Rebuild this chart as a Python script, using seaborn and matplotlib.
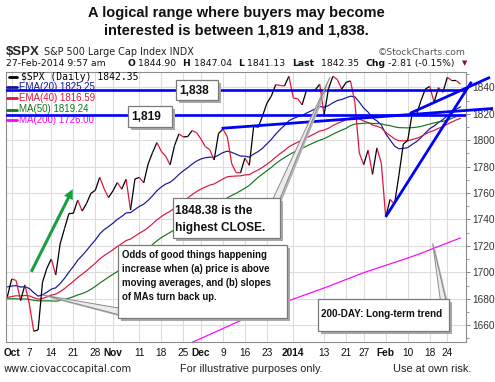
import numpy as np
import pandas as pd
import matplotlib
matplotlib.use("Agg")
import matplotlib.pyplot as plt
import seaborn as sns
from matplotlib.collections import LineCollection
from matplotlib.patches import Rectangle, Polygon, FancyArrowPatch
from matplotlib.lines import Line2D
from matplotlib.transforms import Affine2D

# $SPX daily closes, 30-Sep-2013 .. 27-Feb-2014 (trading-day index -1 .. 102)
close = [1681.55, 1695.00, 1693.87, 1678.66, 1690.50, 1676.12, 1655.45, 1656.40, 1692.56, 1703.20,
         1710.14, 1698.06, 1721.54, 1733.15, 1744.50, 1744.66, 1754.67, 1746.38, 1752.07, 1759.77,
         1762.11, 1771.95, 1763.31, 1756.54, 1761.64, 1767.93, 1762.97, 1770.49, 1747.15, 1770.61,
         1771.89, 1767.69, 1782.00, 1790.62, 1798.18, 1791.53, 1787.87, 1781.37, 1795.85, 1804.76,
         1802.48, 1802.75, 1807.23, 1805.81, 1800.90, 1795.15, 1792.81, 1785.03, 1805.09, 1808.37,
         1802.62, 1782.22, 1775.50, 1775.32, 1786.54, 1781.00, 1810.65, 1809.60, 1818.32, 1827.99,
         1833.32, 1842.02, 1841.40, 1841.07, 1848.36, 1831.98, 1831.37, 1826.77, 1837.88, 1837.49,
         1838.13, 1842.37, 1819.20, 1838.88, 1848.38, 1845.89, 1838.70, 1843.80, 1844.86, 1828.46,
         1790.29, 1781.56, 1792.50, 1774.20, 1794.19, 1782.59, 1741.89, 1755.20, 1751.64, 1773.43,
         1797.02, 1799.84, 1819.75, 1819.26, 1829.83, 1838.63, 1840.76, 1828.75, 1839.78, 1836.25,
         1847.61, 1845.12, 1845.16, 1842.35]
ema20 = [1689.0, 1689.6, 1690.0, 1688.9, 1689.1, 1687.8, 1684.7, 1682.0, 1683.0, 1684.9,
         1687.3, 1688.3, 1691.5, 1695.5, 1700.2, 1704.4, 1709.2, 1712.7, 1716.5, 1720.6,
         1724.5, 1729.1, 1732.3, 1734.6, 1737.2, 1740.1, 1742.3, 1745.0, 1745.2, 1747.6,
         1749.9, 1751.6, 1754.5, 1757.9, 1761.8, 1764.6, 1766.8, 1768.2, 1770.8, 1774.1,
         1776.8, 1779.2, 1781.9, 1784.2, 1785.8, 1786.7, 1787.2, 1787.0, 1788.7, 1790.6,
         1791.7, 1790.8, 1789.4, 1788.0, 1787.9, 1787.2, 1789.5, 1791.4, 1793.9, 1797.2,
         1800.6, 1804.6, 1808.1, 1811.2, 1814.7, 1816.4, 1817.8, 1818.7, 1820.5, 1822.1,
         1823.7, 1825.5, 1824.9, 1826.2, 1828.3, 1830.0, 1830.8, 1832.1, 1833.3, 1832.8,
         1828.8, 1824.3, 1821.2, 1816.8, 1814.6, 1811.6, 1804.9, 1800.2, 1795.6, 1793.5,
         1793.8, 1794.4, 1796.8, 1798.9, 1801.9, 1805.4, 1808.7, 1810.7, 1813.4, 1815.6,
         1818.6, 1821.2, 1823.4, 1825.2]
ema40 = [1681.0, 1681.7, 1682.3, 1682.1, 1682.5, 1682.2, 1680.9, 1679.7, 1680.3, 1681.4,
         1682.8, 1683.6, 1685.4, 1687.7, 1690.5, 1693.1, 1696.1, 1698.6, 1701.2, 1704.1,
         1706.9, 1710.1, 1712.7, 1714.8, 1717.1, 1719.6, 1721.7, 1724.1, 1725.2, 1727.4,
         1729.6, 1731.5, 1733.9, 1736.7, 1739.7, 1742.2, 1744.4, 1746.2, 1748.7, 1751.4,
         1753.9, 1756.3, 1758.8, 1761.1, 1763.0, 1764.6, 1766.0, 1766.9, 1768.8, 1770.7,
         1772.3, 1772.7, 1772.9, 1773.0, 1773.7, 1774.0, 1775.8, 1777.5, 1779.5, 1781.8,
         1784.3, 1787.2, 1789.8, 1792.3, 1795.0, 1796.8, 1798.5, 1799.9, 1801.8, 1803.5,
         1805.2, 1807.0, 1807.6, 1809.1, 1811.0, 1812.7, 1814.0, 1815.5, 1816.9, 1817.5,
         1816.1, 1814.5, 1813.4, 1811.5, 1810.6, 1809.3, 1806.0, 1803.5, 1801.0, 1799.6,
         1799.5, 1799.5, 1800.5, 1801.4, 1802.8, 1804.6, 1806.3, 1807.4, 1809.0, 1810.3,
         1812.1, 1813.7, 1815.3, 1816.6]
ma50 = [1680.0, 1680.0, 1680.0, 1679.8, 1679.9, 1679.5, 1678.9, 1678.4, 1678.5, 1678.4,
        1678.4, 1678.2, 1678.7, 1679.6, 1680.5, 1681.6, 1682.9, 1683.9, 1685.3, 1687.2,
        1689.4, 1691.9, 1694.1, 1696.4, 1698.5, 1700.6, 1702.7, 1705.5, 1707.7, 1710.4,
        1713.1, 1715.7, 1718.3, 1721.0, 1723.9, 1726.3, 1728.3, 1730.2, 1732.4, 1734.8,
        1736.9, 1738.8, 1740.4, 1742.1, 1743.9, 1745.8, 1747.7, 1749.6, 1751.7, 1754.0,
        1756.4, 1758.2, 1759.8, 1761.7, 1763.7, 1765.8, 1768.9, 1771.9, 1774.4, 1776.9,
        1779.4, 1782.3, 1784.7, 1786.8, 1788.9, 1790.7, 1792.2, 1793.8, 1795.5, 1797.1,
        1798.6, 1800.0, 1801.1, 1802.8, 1804.5, 1806.1, 1807.6, 1809.0, 1811.0, 1812.2,
        1812.5, 1812.8, 1813.0, 1812.7, 1812.6, 1812.4, 1811.5, 1811.0, 1810.1, 1809.5,
        1809.4, 1809.3, 1809.5, 1809.8, 1810.4, 1811.3, 1812.2, 1813.1, 1813.8, 1814.3,
        1815.2, 1816.5, 1817.9, 1819.2]
# MA(200) only enters the chart in December: values from trading day 40 on
ma200_first = 40
ma200 = [1645.5, 1647.0,
         1648.5, 1650.0, 1651.5, 1653.0, 1654.5, 1656.0, 1657.5, 1659.0, 1660.5, 1662.0,
         1663.4, 1664.8, 1666.2, 1667.6, 1669.0, 1670.4, 1671.8, 1673.2, 1674.6, 1676.0,
         1677.4, 1678.6, 1679.8, 1681.0, 1682.2, 1683.4, 1684.6, 1685.8, 1687.0, 1688.2,
         1689.4, 1690.7, 1692.0, 1693.3, 1694.6, 1695.9, 1697.2, 1698.5, 1699.7, 1700.9,
         1702.0, 1703.1, 1704.2, 1705.3, 1706.4, 1707.5, 1708.6, 1709.7, 1710.8, 1712.0,
         1713.2, 1714.4, 1715.7, 1717.0, 1718.3, 1719.6, 1720.9, 1722.2, 1723.5, 1724.8,
         1726.0]

tick_days = [0, 4, 9, 14, 19, 23, 29, 34, 39, 43, 48, 53, 58, 64, 71, 76, 80, 85, 90, 95, 99]
tick_labels = ["Oct", "7", "14", "21", "28", "Nov", "11", "18", "25", "Dec", "9", "16", "23",
               "2014", "13", "21", "27", "Feb", "10", "18", "24"]
bold_ticks = {"Oct", "Nov", "Dec", "2014", "Feb"}

support_levels = [1819, 1838]
trend_lines = [
    [(47.7, 1809.0), (109.4, 1824.0)],
    [(85.0, 1742.0), (104.5, 1844.2)],
    [(90.5, 1820.3), (108.7, 1847.6)],
]

colors = {"EMA(20)": "#14149a", "EMA(40)": "#dc143c", "MA(50)": "#16761a", "MA(200)": "#ff00ff"}
down_red = "#e2143c"

sns.set_style("white")
plt.rcParams["font.family"] = ["Liberation Sans", "DejaVu Sans"]

fig = plt.figure(figsize=(4.95, 3.82), dpi=100)
# image pixel coordinates (origin top-left) for annotations
PX = Affine2D().scale(0.01, -0.01).translate(0, 3.82) + fig.dpi_scale_trans

ax = fig.add_axes([6 / 495, 40 / 382, 460 / 495, 270 / 382])
ax.set_xlim(-1.3, 103.25)
ax.set_ylim(1647.3, 1851.6)

days = np.arange(-1, len(close) - 1)
ma_frame = pd.concat([
    pd.DataFrame({"day": days, "value": ema20, "series": "EMA(20)"}),
    pd.DataFrame({"day": days, "value": ema40, "series": "EMA(40)"}),
    pd.DataFrame({"day": days, "value": ma50, "series": "MA(50)"}),
    pd.DataFrame({"day": np.arange(ma200_first, ma200_first + len(ma200)),
                  "value": ma200, "series": "MA(200)"}),
])
sns.lineplot(data=ma_frame, x="day", y="value", hue="series", palette=colors,
             estimator=None, linewidth=0.85, legend=False, ax=ax, zorder=2)

# price line: black on up days, red on down days
pts = np.column_stack([days, close])
segs = np.stack([pts[:-1], pts[1:]], axis=1)
seg_colors = ["black" if b >= a else down_red for a, b in zip(close[:-1], close[1:])]
ax.add_collection(LineCollection(segs, colors=seg_colors, linewidths=0.9, zorder=2.5))

for lvl in support_levels:
    ax.axhline(lvl, color="#0000ff", lw=1.9, zorder=4)
for (x0, y0), (x1, y1) in trend_lines:
    ax.plot([x0, x1], [y0, y1], color="#0000ff", lw=2.0, zorder=4, clip_on=False,
            solid_capstyle="butt")

ax.set_xticks(tick_days)
ax.set_xticklabels(tick_labels)
for lbl in ax.get_xticklabels():
    if lbl.get_text() in bold_ticks:
        lbl.set_fontweight("bold")
ax.set_yticks(range(1660, 1841, 20))
ax.set_yticks(range(1650, 1851, 10), minor=True)
ax.yaxis.tick_right()
ax.tick_params(axis="y", which="major", length=3, width=0.7, color="#888888",
               labelsize=7.3, labelcolor="#333333", pad=1.5)
ax.tick_params(axis="y", which="minor", length=2, width=0.6, color="#888888")
ax.tick_params(axis="x", length=2, width=0.6, color="#888888", labelsize=7.3,
               labelcolor="#111111", pad=2.5)
ax.grid(True, which="major", color="#dcdcdc", lw=0.8)
ax.set_axisbelow(True)
ax.set_xlabel("")
ax.set_ylabel("")
for sp in ax.spines.values():
    sp.set_color("#8c8c8c")
    sp.set_linewidth(0.8)

# in-chart legend
legend_rows = [("\\$SPX (Daily) 1842.35", "black", 79.5),
               ("EMA(20) 1825.25", colors["EMA(20)"], 90.3),
               ("EMA(40) 1816.59", colors["EMA(40)"], 101.3),
               ("MA(50) 1819.24", colors["MA(50)"], 112.5),
               ("MA(200) 1726.00", colors["MA(200)"], 123.3)]
for i, (txt, c, yb) in enumerate(legend_rows):
    x0 = 9.3 if i == 0 else 6.5
    ax.add_line(Line2D([x0, 16.5], [yb - 3, yb - 3], transform=PX, color=c, lw=2.0,
                       zorder=3, clip_on=False))
    if i == 0:
        ax.text(21, yb, txt, transform=PX, color=c, fontsize=7, family="DejaVu Sans Mono",
                va="baseline", zorder=3)
    else:
        ax.text(19, yb, txt, transform=PX, color=c, fontsize=7, va="baseline", zorder=3)

# header
fig.text(236, 17.3, "A logical range where buyers may become", transform=PX, ha="center",
         va="baseline", fontsize=10.5, weight="bold", color="#111111")
fig.text(236, 34.3, "interested is between 1,819 and 1,838.", transform=PX, ha="center",
         va="baseline", fontsize=10.5, weight="bold", color="#111111")
fig.text(6, 55, "\\$SPX", transform=PX, va="baseline", fontsize=9.5, weight="bold")
fig.text(44, 55, "S&P 500 Large Cap Index INDX", transform=PX, va="baseline", fontsize=6.9,
         family="DejaVu Sans", color="#222222")
fig.text(466, 55, "\u00a9StockCharts.com", transform=PX, ha="right", va="baseline",
         fontsize=6.7, family="DejaVu Sans", color="#555555")
quote = [(6, "27-Feb-2014 9:57 am", "normal"), (128, "O", "bold"), (138, "1844.90", "normal"),
         (182, "H", "bold"), (194, "1847.04", "normal"), (238, "L", "bold"),
         (247, "1841.13", "normal"), (292, "Last", "bold"), (321, "1842.35", "normal"),
         (366, "Chg", "bold"), (388, "-2.81 (-0.15%)", "normal")]
for xq, txt, w in quote:
    fig.text(xq, 66, txt, transform=PX, va="baseline", fontsize=6.7, family="DejaVu Sans",
             weight=w, color="#111111")
fig.text(462, 65.5, "\u25bc", transform=PX, va="baseline", fontsize=5, family="DejaVu Sans",
         color="#8b1030")

# footer
fig.text(4, 371.5, "www.ciovaccocapital.com", transform=PX, va="baseline", fontsize=7.2,
         family="DejaVu Sans", color="#222222")
for xf, txt in [(180, "For illustrative purposes only."), (393, "Use at own risk.")]:
    fig.text(xf, 371.5, txt, transform=PX, va="baseline", fontsize=7.9, color="#222222")


def pointer(b1, b2, tip):
    fig.add_artist(Polygon([(b1[0] + 2, b1[1] + 2), (b2[0] + 2, b2[1] + 2), (tip[0] + 1.5, tip[1] + 1.5)],
                           transform=PX, fc="#b4b4b4", ec="none", zorder=5))
    fig.add_artist(Polygon([b1, b2, tip], transform=PX, fc="#ececec", ec="#8a8a8a", lw=0.7,
                           zorder=5.5))


def box(x0, y0, x1, y1):
    fig.add_artist(Rectangle((x0 + 3, y0 + 3), x1 - x0, y1 - y0, transform=PX,
                             fc="#a8a8a8", ec="none", zorder=6))
    fig.add_artist(Rectangle((x0, y0), x1 - x0, y1 - y0, transform=PX,
                             fc="white", ec="#7a7a7a", lw=0.9, zorder=7))


def box_text(x, y, txt, size):
    fig.text(x, y, txt, transform=PX, va="baseline", fontsize=size, weight="bold",
             color="#111111", zorder=8)


box(175.7, 80, 218.3, 100)
box_text(179, 94.3, "1,838", 8.6)
box(128.3, 105.7, 172.3, 126.7)
box_text(131.5, 120, "1,819", 8.6)

pointer((271, 203), (277, 206), (330, 77))
box(172.7, 198.3, 280, 238.3)
box_text(175, 213.5, "1848.38 is the", 8.6)
box_text(175, 230.5, "highest CLOSE.", 8.6)

pointer((124, 309), (124, 316), (43, 295))
box(118.3, 245, 286.7, 318)
for k, line in enumerate(["Odds of good things happening",
                          "increase when (a) price is above",
                          "moving averages, and (b) slopes",
                          "of MAs turn back up."]):
    box_text(121.7, 258 + 14 * k, line, 6.9)

pointer((441, 305), (447, 305), (432.7, 243.3))
box(318.3, 299.3, 449.3, 330.7)
box_text(321, 317.3, "200-DAY: Long-term trend", 7.1)

# green momentum arrow
fig.add_artist(FancyArrowPatch((30, 274.3), (74, 186.7), transform=PX,
                               arrowstyle="simple,head_width=7,head_length=7,tail_width=2.2",
                               color="#17a040", lw=0, zorder=5))

fig.savefig("out.png", dpi=100)
